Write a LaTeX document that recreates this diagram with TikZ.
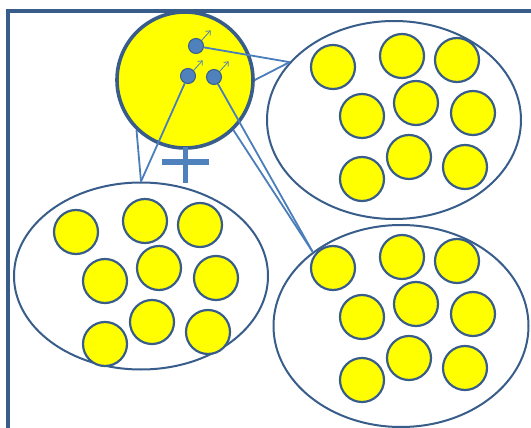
\documentclass[tikz,border=0pt]{standalone}
\usepackage{xcolor}
\usepackage{tikz}
\usetikzlibrary{arrows.meta,shapes.geometric}
\definecolor{edgeblue}{HTML}{385D8A}
\definecolor{linkblue}{HTML}{4A7EBB}
\definecolor{spotblue}{HTML}{4F81BD}
\definecolor{ballyellow}{HTML}{FFFF00}

\begin{document}
\begin{tikzpicture}[x=1pt,y=-1pt,>={Straight Barb[length=3.5pt,width=6pt]},
    grp/.style={ellipse, draw=edgeblue, line width=2pt, fill=white, inner sep=0pt},
    ball/.style={circle, draw=edgeblue, line width=2.2pt, fill=ballyellow, minimum size=44pt, inner sep=0pt},
    spot/.style={circle, draw=edgeblue, line width=1pt, fill=spotblue, minimum size=15pt, inner sep=0pt},
    link/.style={draw=linkblue, line width=1.8pt}]
  \useasboundingbox (0,0) rectangle (531,428);
  % ---------- frame ----------
  \draw[edgeblue, line width=3.5pt] (8,430) -- (8,11) -- (533,11);
  % ---------- groups ----------
  \node[grp, minimum width=254pt, minimum height=198pt] (grpUR) at (394,120) {};
  \node[grp, minimum width=254pt, minimum height=187pt] (grpLL) at (141,276) {};
  \node[grp, minimum width=255pt, minimum height=202pt] (grpLR) at (401,326) {};
  \foreach \g/\bx/\by in {UR/333/67, LL/76/232, LR/333/268}
    \foreach \dx/\dy [count=\i] in {0/0, 69/-11, 124/-7, 29/49, 83/36, 140/46, 29/112, 76/90, 132/100}
      \node[ball] (\g-\i) at (\bx+\dx,\by+\dy) {};
  % ---------- cell ----------
  \node[ball, minimum size=136pt, line width=3.6pt] (cell) at (185,80) {};
  \node[spot] (spotA) at (196,46) {};
  \node[spot] (spotB) at (188,76) {};
  \node[spot] (spotC) at (214,77) {};
  \draw[->, linkblue, line width=0.8pt] (spotA.45) -- ++(9,-10);
  \draw[->, linkblue, line width=0.8pt] (spotB.45) -- ++(9,-10);
  \draw[->, linkblue, line width=0.8pt] (spotC.45) -- ++(9,-10);
  \draw[spotblue, line width=5.5pt] (162,162) -- (209,162);
  \draw[spotblue, line width=5.5pt] (185.5,147) -- (185.5,183);
  % ---------- links ----------
  \draw[link] (spotA) -- (grpUR.151);
  \draw[link] (cell.0) -- (grpUR.151);
  \draw[link] (spotB) -- (grpLL.north);
  \draw[link] (cell.226) -- (grpLL.north);
  \draw[link] (spotC) -- (grpLR.140);
  \draw[link] (cell.-46) -- (grpLR.140);
\end{tikzpicture}
\end{document}
